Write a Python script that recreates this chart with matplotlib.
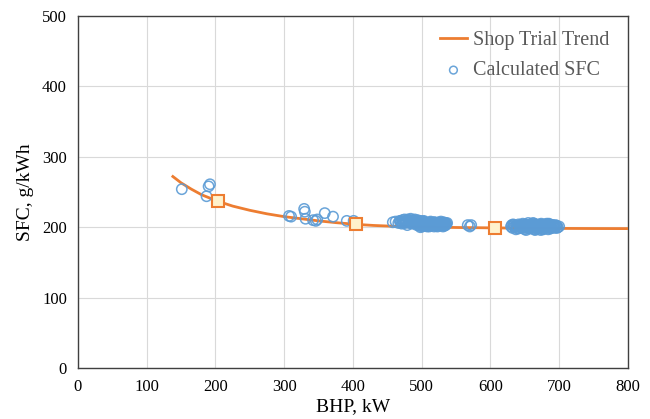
import matplotlib
matplotlib.use("Agg")
import matplotlib.pyplot as plt

# Shop trial reference points
shop_bhp = [203, 405, 607]
shop_sfc = [237, 204, 199]

# Shop trial trend curve
trend_bhp = [138, 150, 165, 180, 203, 225, 250, 275, 300, 325, 350, 375, 405, 430, 460, 500, 550, 607, 650, 700, 750, 800]
trend_sfc = [272, 263, 254, 246, 237, 230, 224, 219, 215, 212, 209, 206.5, 204, 202.5, 201.3, 200.3, 199.6, 199, 198.6, 198.3, 198.1, 198]

# Calculated SFC – scattered low load points
low_bhp = [151, 187, 190, 192, 307, 310, 329, 330, 331, 342, 346, 348, 359, 371, 391, 401, 403, 458, 462, 466, 567, 570, 572]
low_sfc = [254, 244, 258, 261, 216, 215, 226, 222, 212, 210, 209, 211, 220, 215, 209, 209, 206, 207, 208, 206, 203, 201, 203]

# Calculated SFC – cluster around 470-540 kW
c1_bhp = [468, 470, 472, 474, 476, 478, 480, 481, 483, 485, 486, 488, 489, 490, 491, 492, 493, 494, 495, 496,
          497, 498, 499, 500, 501, 502, 503, 504, 505, 506, 507, 508, 509, 510, 511, 512, 513, 514, 515, 516,
          517, 518, 519, 520, 521, 522, 523, 524, 525, 526, 527, 528, 529, 530, 531, 532, 533, 534, 535, 536,
          471, 475, 479, 484, 487, 493, 498, 503, 508, 513, 518, 523, 528, 533, 537,
          473, 477, 482, 486, 490, 494, 497, 501, 505, 509, 512, 516, 520, 524, 527, 531, 534,
          469, 476, 481, 488, 492, 496, 500, 504, 507, 511, 515, 519, 522, 526, 529, 532, 535]
c1_sfc = [209, 207, 210, 208, 206, 209, 211, 207, 208, 210, 205, 209, 207, 211, 206, 208, 203, 210, 205, 207,
          202, 209, 204, 206, 201, 208, 203, 205, 207, 202, 204, 206, 203, 205, 201, 207, 204, 202, 206, 203,
          205, 201, 207, 204, 202, 206, 203, 205, 207, 202, 204, 206, 203, 205, 201, 207, 204, 206, 203, 205,
          205, 211, 203, 212, 206, 208, 200, 209, 201, 208, 207, 201, 208, 202, 206,
          206, 208, 206, 208, 208, 206, 206, 204, 204, 206, 204, 205, 205, 204, 205, 204, 205,
          208, 207, 209, 207, 205, 207, 203, 207, 203, 206, 206, 204, 203, 204, 203, 206, 204]

# Calculated SFC – cluster around 630-700 kW
c2_bhp = [630, 632, 634, 636, 638, 640, 641, 643, 645, 646, 648, 649, 650, 651, 652, 653, 654, 655, 656, 657,
          658, 659, 660, 661, 662, 663, 664, 665, 666, 667, 668, 669, 670, 671, 672, 673, 674, 675, 676, 677,
          678, 679, 680, 681, 682, 683, 684, 685, 686, 687, 688, 689, 690, 692, 694, 696, 698, 700,
          633, 637, 642, 647, 652, 657, 662, 667, 672, 677, 682, 687, 692, 697, 655, 665, 675, 685,
          635, 639, 644, 648, 653, 658, 663, 668, 673, 678, 683, 688, 693, 639, 649, 659, 669, 679, 689,
          631, 644, 654, 661, 666, 671, 676, 681, 686, 691, 695]
c2_sfc = [201, 199, 203, 200, 202, 198, 204, 201, 199, 203, 200, 202, 197, 204, 201, 199, 203, 200, 202, 198,
          204, 201, 199, 203, 200, 205, 197, 202, 200, 204, 198, 201, 203, 199, 202, 196, 205, 200, 203, 198,
          201, 204, 199, 202, 200, 203, 197, 201, 204, 199, 202, 200, 203, 201, 199, 202, 200, 201,
          204, 197, 202, 205, 196, 203, 206, 198, 204, 197, 205, 198, 202, 199, 206, 196, 197, 205,
          201, 201, 201, 202, 201, 201, 201, 201, 201, 201, 201, 201, 201, 199, 199, 199, 200, 199, 199,
          203, 203, 203, 203, 203, 203, 202, 203, 202, 203, 203]

plt.rcParams['font.family'] = ['Liberation Serif', 'DejaVu Serif']

fig = plt.figure(figsize=(6.5, 4.19), dpi=100)
ax = fig.add_axes([0.12, 0.1217, 0.846, 0.8401])

blue = '#5B9BD5'
orange = '#ED7D31'

ax.plot(trend_bhp, trend_sfc, color=orange, lw=2, zorder=3, label='Shop Trial Trend')
ax.scatter(low_bhp + c1_bhp + c2_bhp, low_sfc + c1_sfc + c2_sfc, s=55, facecolors='none',
           edgecolors=blue, linewidths=1.1, alpha=0.9, zorder=4, label='Calculated SFC')
ax.plot(shop_bhp, shop_sfc, ls='none', marker='s', ms=9, mfc='#FFF2CC', mec=orange, mew=1.5, zorder=5)

ax.set_xlim(0, 800)
ax.set_ylim(0, 500)
ax.set_xticks(range(0, 801, 100))
ax.set_yticks(range(0, 501, 100))
ax.grid(True, color='#D9D9D9', lw=0.8)
ax.set_axisbelow(True)
ax.tick_params(length=0, labelsize=12, pad=8)
for s in ax.spines.values():
    s.set_color('#404040')
    s.set_linewidth(1.0)

ax.set_xlabel('BHP, kW', fontsize=14, labelpad=2)
ax.set_ylabel('SFC, g/kWh', fontsize=14, labelpad=6)

leg = ax.legend(loc='upper right', bbox_to_anchor=(0.993, 1.0), frameon=False, fontsize=14.5,
                handlelength=1.3, handletextpad=0.3, borderaxespad=0.35, labelspacing=0.55,
                markerscale=0.75)
for t in leg.get_texts():
    t.set_color('#595959')

fig.savefig('out.png', dpi=100)
